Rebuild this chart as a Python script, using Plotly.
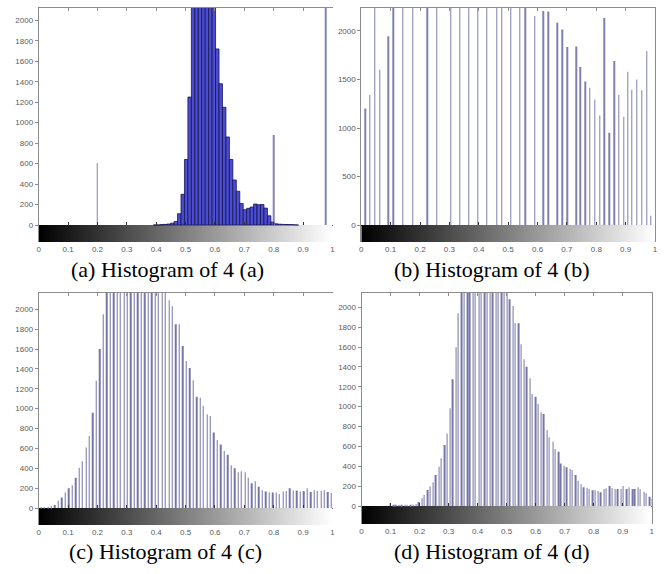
import plotly.graph_objects as go

# ---------------------------------------------------------------- axes text
x_tick_vals = [0, 0.1, 0.2, 0.3, 0.4, 0.5, 0.6, 0.7, 0.8, 0.9, 1]
x_tick_text = ["0", "0.1", "0.2", "0.3", "0.4", "0.5", "0.6", "0.7", "0.8", "0.9", "1"]
y_ticks_200 = [0, 200, 400, 600, 800, 1000, 1200, 1400, 1600, 1800, 2000]
y_ticks_500 = [0, 500, 1000, 1500, 2000]

captions = ["(a) Histogram of 4 (a)", "(b) Histogram of 4 (b)",
            "(c) Histogram of 4 (c)", "(d) Histogram of 4 (d)"]

# ---------------------------------------------------------------- (a)
# grey-level groups of three levels each (group k covers level 3k+2)
a_groups = list(range(33, 75))
a_counts = [0, 0, 4, 6, 10, 18, 35, 110, 300, 640,
            1250, 2150, 2600, 3000, 3200, 3100, 2800, 2300, 1720, 1380,
            1150, 860, 640, 440, 330, 210, 150, 163, 175, 205,
            198, 200, 165, 90, 30, 12, 8, 6, 5, 4,
            3, 0]
a_spike_levels = [51, 204, 249]
a_spike_counts = [605, 880, 2500]

# ---------------------------------------------------------------- (b)
b_levels = [0.0135, 0.030, 0.047, 0.064, 0.092, 0.109, 0.141, 0.175, 0.225, 0.256,
            0.304, 0.335, 0.365, 0.397, 0.427, 0.461, 0.478, 0.510, 0.540, 0.558,
            0.591, 0.619, 0.636, 0.667, 0.684, 0.701, 0.732, 0.746, 0.763, 0.778,
            0.794, 0.812, 0.827, 0.844, 0.861, 0.876, 0.893, 0.908, 0.921, 0.938,
            0.955, 0.972, 0.986]
b_counts = [1200, 1340, 2500, 1600, 1945, 2700, 2900, 3100, 3300, 3400,
            3500, 3600, 3500, 3400, 3300, 3100, 2900, 2800, 2600, 2400,
            2155, 2205, 2200, 2085, 2015, 1835, 1840, 1630, 1480, 1415,
            1295, 1130, 2135, 950, 1690, 1340, 1115, 1580, 1395, 1500,
            1390, 1795, 95]

# ---------------------------------------------------------------- (c)
c_counts = [5, 10, 12, 20, 30, 75, 105, 155, 200, 230,
            305, 405, 470, 610, 725, 960, 1280, 1600, 1950,
            2350, 2600, 2850, 3050, 3200, 3300, 3350, 3300, 3250, 3150,
            3050, 2950, 2850, 2700, 2600, 2450, 2300, 2200,
            2090, 2030, 1850, 1850, 1630, 1480, 1410, 1285, 1120, 1110,
            1030, 940, 925, 760, 685, 640, 575, 535, 430, 400,
            360, 370, 360, 305, 250, 270, 215, 180, 165, 155,
            155, 155, 140, 165, 170, 200, 175, 175, 165, 170,
            200, 160, 180, 170, 170, 180, 160, 150]

# ---------------------------------------------------------------- (d)
d_counts = [0, 0, 0, 0, 0, 0, 0, 0, 0, 0,
            30, 8, 6, 8, 10, 8, 12, 10, 15, 20,
            40, 77, 110, 160, 200, 238, 312, 396, 480, 614,
            731, 983, 1275, 1597, 1939,
            2300, 2550, 2800, 3000, 3150, 3250, 3300, 3300, 3250, 3150,
            3050, 2950, 2800, 2650, 2500, 2350, 2200,
            2080, 2013, 1839, 1839, 1627, 1476, 1402, 1285, 1127, 1100,
            1027, 943, 926, 765, 691, 648, 574, 547, 429, 406,
            389, 372, 362, 312, 255, 218, 188, 185, 171, 158,
            158, 151, 138, 171, 178, 201, 178, 171, 171, 171,
            201, 171, 188, 171, 171, 188, 168, 144, 128, 94,
            77]

# bin centres on the [0, 1] intensity scale
a_levels = [(3 * k + 2) / 255 for k in a_groups]
a_spikes = [v / 255 for v in a_spike_levels]
c_levels = [(3 * k + 2) / 255 for k in range(len(c_counts))]
d_levels = [int(2.5 * k + 0.5) / 255 for k in range(len(d_counts))]

# grey ramp shown under each histogram
ramp = list(range(256))
ramp_edges = [i / 256 for i in range(257)]

W, H = 666, 574
STEM = "#7676a6"
AXIS = "#8c8c8c"
LABEL = "#5a5a5a"


def px_x(a, b):
    return [a / W, b / W]


def px_y(top, bottom):
    return [1 - bottom / H, 1 - top / H]


panels = [
    dict(xdom=px_x(37, 333), ydom=px_y(8, 242), yr=[-166, 2120], yt=y_ticks_200, box=False,
         cap=(167, 269)),
    dict(xdom=px_x(362, 658), ydom=px_y(8, 242), yr=[-175, 2237], yt=y_ticks_500, box=True,
         cap=(494, 269)),
    dict(xdom=px_x(37, 333), ydom=px_y(293, 525), yr=[-171, 2164], yt=y_ticks_200, box=False,
         cap=(165, 551)),
    dict(xdom=px_x(362.3, 654.7), ydom=px_y(292.7, 524), yr=[-181, 2147], yt=y_ticks_200, box=True,
         cap=(494, 551)),
]

fig = go.Figure()


def ax_names(i):
    return ("x" if i == 1 else f"x{i}"), ("y" if i == 1 else f"y{i}")


def stems(i, xs, ys, color=STEM, width=0.0012):
    xn, yn = ax_names(i)
    fig.add_trace(go.Bar(x=xs, y=ys, width=width, xaxis=xn, yaxis=yn,
                         marker=dict(color=color, line=dict(width=0)),
                         hoverinfo="skip", showlegend=False))


for i, p in enumerate(panels, 1):
    xn, yn = ax_names(i)
    fig.add_trace(go.Heatmap(z=[ramp], x=ramp_edges, y=[p["yr"][0], 0],
                             colorscale=[[0, "#000000"], [1, "#ffffff"]],
                             zmin=0, zmax=255, showscale=False, zsmooth=False,
                             xaxis=xn, yaxis=yn, hoverinfo="skip"))

# (a) dense histogram drawn as filled bins with dark edges, plus isolated stems
xn, yn = ax_names(1)
fig.add_trace(go.Bar(x=a_levels, y=a_counts, width=3 / 255, xaxis=xn, yaxis=yn,
                     marker=dict(color="#4c4cd2", line=dict(color="#15154f", width=0.8)),
                     hoverinfo="skip", showlegend=False))
stems(1, a_spikes, a_spike_counts, color="#8282b8")
stems(2, b_levels, b_counts, color="#8080ae")
stems(3, c_levels, c_counts)
stems(4, d_levels, d_counts)

layout = dict(width=W, height=H, margin=dict(l=0, r=0, t=0, b=0),
              paper_bgcolor="white", plot_bgcolor="white",
              barmode="overlay", showlegend=False,
              font=dict(family="Liberation Sans, Arial, sans-serif", size=8, color=LABEL))

annotations = []
for i, p in enumerate(panels, 1):
    xn, yn = ax_names(i)
    xk = "xaxis" if i == 1 else f"xaxis{i}"
    yk = "yaxis" if i == 1 else f"yaxis{i}"
    y0, y1 = p["yr"]
    zero_pos = p["ydom"][0] + (0 - y0) / (y1 - y0) * (p["ydom"][1] - p["ydom"][0])

    layout[xk] = dict(domain=p["xdom"], range=[0, 1], anchor=yn,
                      tickvals=x_tick_vals, ticktext=x_tick_text, ticks="",
                      ticklabelstandoff=1,
                      showline=False, showgrid=False, zeroline=False, fixedrange=True,
                      tickfont=dict(size=8, color=LABEL))
    layout[yk] = dict(domain=p["ydom"], range=p["yr"], anchor=xn,
                      tickvals=p["yt"], ticks="outside", ticklen=3, tickcolor=AXIS,
                      showline=True, linecolor=AXIS, linewidth=1, mirror=p["box"],
                      showgrid=False, zeroline=True, zerolinecolor="#111111",
                      zerolinewidth=1, fixedrange=True,
                      tickfont=dict(size=8, color=LABEL))

    # tick marks sitting on the baseline
    base_key = f"xaxis{4 + i}"
    layout[base_key] = dict(domain=p["xdom"], range=[0, 1], overlaying=xn,
                            anchor="free", position=zero_pos,
                            tickvals=x_tick_vals, ticks="inside", ticklen=3,
                            tickcolor="#333333", showticklabels=False,
                            showline=False, showgrid=False, zeroline=False)
    fig.add_trace(go.Scatter(x=[], y=[], xaxis=f"x{4 + i}", yaxis=yn,
                             showlegend=False, hoverinfo="skip"))

    # top frame with inward ticks
    top_key = f"xaxis{8 + i}"
    layout[top_key] = dict(domain=p["xdom"], range=[0, 1], overlaying=xn,
                           anchor=yn, side="top",
                           tickvals=x_tick_vals, ticks="inside", ticklen=3,
                           tickcolor=AXIS, showticklabels=False,
                           showline=True, linecolor=AXIS, linewidth=1,
                           showgrid=False, zeroline=False)
    fig.add_trace(go.Scatter(x=[], y=[], xaxis=f"x{8 + i}", yaxis=yn,
                             showlegend=False, hoverinfo="skip"))

    cx, cy = p["cap"]
    annotations.append(dict(text=captions[i - 1], x=cx / W, y=1 - cy / H,
                            xref="paper", yref="paper", showarrow=False,
                            xanchor="center", yanchor="middle",
                            font=dict(family="Liberation Serif, Times New Roman, serif",
                                      size=22, color="#000000")))

layout["annotations"] = annotations
fig.update_layout(**layout)
fig.write_html("out.html")
